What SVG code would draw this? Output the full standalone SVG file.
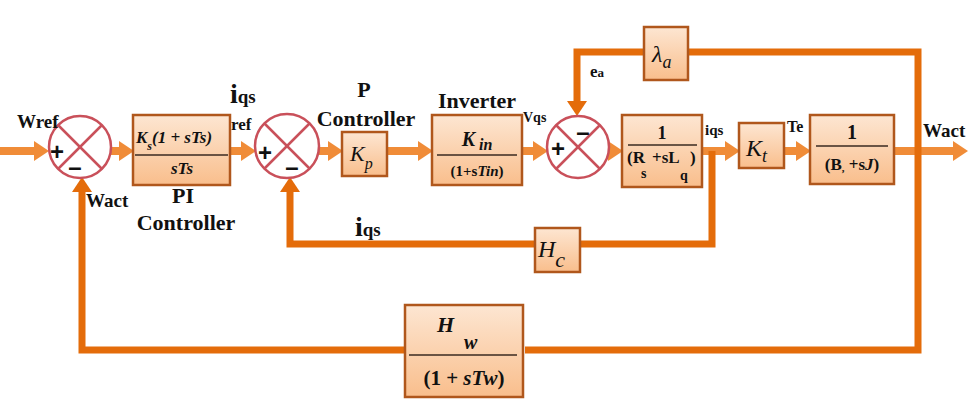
<svg xmlns="http://www.w3.org/2000/svg" width="977" height="408" viewBox="0 0 977 408">
<defs>
<linearGradient id="bx" x1="0" y1="0" x2="0" y2="1">
<stop offset="0" stop-color="#FDE6D2"/>
<stop offset="1" stop-color="#F9BE8C"/>
</linearGradient>
<marker id="af" markerUnits="userSpaceOnUse" markerWidth="15" markerHeight="20" refX="0" refY="10" orient="auto">
<path d="M0,0 L15,10 L0,20 z" fill="#F08C38"/>
</marker>
<marker id="ab" markerUnits="userSpaceOnUse" markerWidth="15" markerHeight="20" refX="0" refY="10" orient="auto">
<path d="M0,0 L15,10 L0,20 z" fill="#E46C0A"/>
</marker>
</defs>
<style>
.fw{fill:none;stroke:#F08C38;stroke-width:8;marker-end:url(#af)}
.fb{fill:none;stroke:#E46C0A;stroke-width:7}
.fba{fill:none;stroke:#E46C0A;stroke-width:7;marker-end:url(#ab)}
.box{fill:url(#bx);stroke:#B0571C;stroke-width:2.5}
.sum{fill:#FFFFFF;stroke:#C9505A;stroke-width:2.5}
.x{stroke:#C9505A;stroke-width:2.5}
.fr{stroke:#3A2A20;stroke-width:1.5}
text{font-family:"Liberation Serif","DejaVu Serif",serif;fill:#111;font-weight:bold}
.lb{font-size:19px}
.big{font-size:22px}
.m{font-style:italic}
.n{font-style:italic;font-weight:normal}
.sg{font-family:"Liberation Sans","DejaVu Sans",sans-serif;font-size:24px}
</style>

<g id="connectors">
<path class="fw" d="M0,151 H34"/>
<path class="fw" d="M111,151 H119"/>
<path class="fw" d="M230,151 H241"/>
<path class="fw" d="M319,151 H328"/>
<path class="fw" d="M387,151 H418"/>
<path class="fw" d="M522,151 H533"/>
<path class="fw" d="M606,151 H608"/>
<path class="fw" d="M702,151 H725"/>
<path class="fw" d="M784,151 H796"/>
<path class="fw" d="M894,151 H953"/>
<path class="fb" d="M688,52 H918 V350 H525"/>
<path class="fba" d="M405,350 H82 V192"/>
<path class="fba" d="M644,52 H577 V101"/>
<path class="fb" d="M712,151 V244 H580"/>
<path class="fba" d="M535,244 H290 V192"/>
</g>

<g id="sum1">
<circle class="sum" cx="80" cy="147" r="31"/>
<line class="x" x1="58" y1="125" x2="102" y2="169"/>
<line class="x" x1="102" y1="125" x2="58" y2="169"/>
<text class="sg" x="57" y="160" text-anchor="middle">+</text>
<text class="sg" x="75" y="175" text-anchor="middle">–</text>
</g>
<g id="sum2">
<circle class="sum" cx="287" cy="146" r="32"/>
<line class="x" x1="264" y1="123" x2="310" y2="169"/>
<line class="x" x1="310" y1="123" x2="264" y2="169"/>
<text class="sg" x="265" y="161" text-anchor="middle">+</text>
<text class="sg" x="292" y="175" text-anchor="middle">–</text>
</g>
<g id="sum3">
<circle class="sum" cx="578" cy="147" r="31"/>
<line class="x" x1="556" y1="125" x2="600" y2="169"/>
<line class="x" x1="600" y1="125" x2="556" y2="169"/>
<text class="sg" x="558" y="157" text-anchor="middle">+</text>
<text class="sg" x="583" y="140" text-anchor="middle">–</text>
</g>

<g id="pi">
<rect class="box" x="133" y="115" width="97" height="70"/>
<line class="fr" x1="135" y1="155" x2="228" y2="155"/>
<text class="m" x="136" y="143" font-size="17">K<tspan font-size="12" dy="7">s</tspan><tspan dy="-7">(1 + sTs)</tspan></text>
<text class="m" x="182" y="174" font-size="17" text-anchor="middle">sTs</text>
</g>
<g id="kp">
<rect class="box" x="342" y="132" width="45" height="44"/>
<text class="n" x="350" y="161" font-size="22">K<tspan font-size="16" dy="8">p</tspan></text>
</g>
<g id="inverter">
<rect class="box" x="432" y="115" width="90" height="70"/>
<line class="fr" x1="437" y1="155" x2="517" y2="155"/>
<text class="m" x="477" y="146" font-size="20" text-anchor="middle">K<tspan font-size="16" dy="4"> in</tspan></text>
<text x="477" y="176" font-size="15" text-anchor="middle">(1+s<tspan font-style="italic">Tin</tspan>)</text>
</g>
<g id="lambda">
<rect class="box" x="644" y="27" width="44" height="53"/>
<text class="n" x="652" y="62" font-size="24">λ<tspan font-size="18" dy="6">a</tspan></text>
</g>
<g id="plant">
<rect class="box" x="622" y="115" width="80" height="72"/>
<line class="fr" x1="628" y1="145" x2="697" y2="145"/>
<text x="662" y="139" font-size="18" text-anchor="middle">1</text>
<text x="627" y="163" font-size="17">(R</text>
<text x="641" y="178" font-size="14">s</text>
<text x="652" y="163" font-size="17">+sL</text>
<text x="680" y="180" font-size="14">q</text>
<text x="690" y="163" font-size="17">)</text>
</g>
<g id="kt">
<rect class="box" x="739" y="123" width="45" height="45"/>
<text class="n" x="746" y="156" font-size="24">K<tspan font-size="18" dy="6">t</tspan></text>
</g>
<g id="mech">
<rect class="box" x="810" y="115" width="84" height="69"/>
<line class="fr" x1="816" y1="146" x2="888" y2="146"/>
<text x="852" y="139" font-size="20" text-anchor="middle">1</text>
<text x="852" y="170" font-size="17" text-anchor="middle">(B<tspan font-size="11" dy="2">,</tspan><tspan dy="-2"> +s</tspan><tspan font-style="italic">J</tspan>)</text>
</g>
<g id="hc">
<rect class="box" x="535" y="228" width="45" height="44"/>
<text class="n" x="538" y="257" font-size="24">H<tspan font-size="22" dy="10">c</tspan></text>
</g>
<g id="hw">
<rect class="box" x="405" y="305" width="118" height="92"/>
<line class="fr" x1="409" y1="355" x2="517" y2="355"/>
<text class="m" x="437" y="332" font-size="22">H<tspan font-size="20" x="464" dy="17">w</tspan></text>
<text x="464" y="385" font-size="21" text-anchor="middle">(1 + <tspan font-style="italic">sTw</tspan>)</text>
</g>

<g id="labels">
<text class="lb" x="17" y="128">Wref</text>
<text class="lb" x="86" y="207">Wact</text>
<text x="183" y="203" font-size="22" text-anchor="middle">PI</text>
<text x="186" y="230" font-size="22" text-anchor="middle">Controller</text>
<text x="230" y="103"><tspan font-size="28">i</tspan><tspan font-size="19">qs</tspan></text>
<text x="231" y="130" font-size="17">ref</text>
<text class="big" x="364" y="97" text-anchor="middle">P</text>
<text class="big" x="366" y="126" text-anchor="middle">Controller</text>
<text class="big" x="477" y="108" text-anchor="middle">Inverter</text>
<text x="523" y="122" font-size="14">Vqs</text>
<text x="590" y="77" font-size="17">e<tspan font-size="13">a</tspan></text>
<text x="705" y="135" font-size="15">iqs</text>
<text x="787" y="132" font-size="16">Te</text>
<text class="lb" x="923" y="137">Wact</text>
<text x="355" y="236"><tspan font-size="28">i</tspan><tspan font-size="19">qs</tspan></text>
</g>
</svg>
